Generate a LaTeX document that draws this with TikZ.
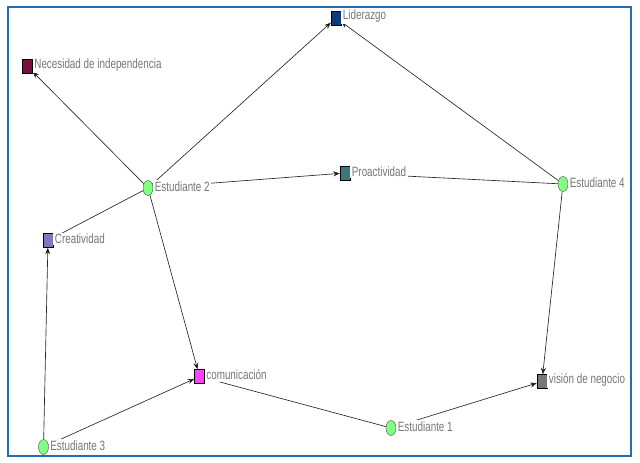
\documentclass[tikz,border=0pt]{standalone}
\usepackage{fontspec}
\newfontfamily\netfont[FakeStretch=0.73]{Liberation Sans}
\usetikzlibrary{arrows.meta, positioning, shapes.geometric}
\pgfdeclarelayer{bg}
\pgfsetlayers{bg,main}
\definecolor{frameblue}{RGB}{38,108,178}
\definecolor{labelgray}{RGB}{118,118,118}
\definecolor{studgreen}{RGB}{128,255,128}
\definecolor{cLid}{RGB}{10,60,122}
\definecolor{cNec}{RGB}{122,16,64}
\definecolor{cCre}{RGB}{122,122,190}
\definecolor{cPro}{RGB}{56,122,122}
\definecolor{cCom}{RGB}{255,64,255}
\definecolor{cVis}{RGB}{120,120,120}
\tikzstyle{network}=[x=1pt, y=-1pt, >={Stealth[length=6.5pt,width=5pt]}, on grid]
\tikzstyle{lbl}=[font=\netfont\fontsize{13.5}{14}\selectfont, text=labelgray, fill=white, inner sep=1.5pt, label distance=0pt, yshift=1.5pt]
\tikzstyle{concept}=[rectangle, draw=black, thin, minimum width=10pt, minimum height=14pt, inner sep=0pt]
\tikzstyle{student}=[ellipse, draw=black!70, thin, fill=studgreen, minimum width=10pt, minimum height=15pt, inner sep=0pt]
\tikzstyle{link}=[draw=black!85, line width=0.65pt]

\begin{document}
\begin{tikzpicture}[network]
  \useasboundingbox (0,0) rectangle (640,463);
  \draw[frameblue, line width=1.3pt] (8,7) rectangle (631,456);
  \node[student, label={[lbl]right:Estudiante 2}] (e2) at (148,188) {};
  \node[concept, fill=cNec, label={[lbl]right:Necesidad de independencia}] (nec) [above left=121.5pt and 120.5pt of e2] {};
  \node[concept, fill=cLid, label={[lbl]right:Liderazgo}] (lid) [above right=170pt and 188pt of e2] {};
  \node[concept, fill=cPro, label={[lbl]right:Proactividad}] (pro) [above right=15pt and 197pt of e2] {};
  \node[student, label={[lbl]right:Estudiante 4}] (e4) [below right=11pt and 218pt of pro] {};
  \node[concept, fill=cCre, label={[lbl]right:Creatividad}] (cre) [below left=52.5pt and 100pt of e2] {};
  \node[concept, fill=cCom, label={[lbl]right:comunicación}] (com) [below right=188.5pt and 51.5pt of e2] {};
  \node[student, label={[lbl]right:Estudiante 3}] (e3) [below left=206.5pt and 4.5pt of cre] {};
  \node[student, label={[lbl]right:Estudiante 1}] (e1) [below right=51.5pt and 191.5pt of com] {};
  \node[concept, fill=cVis, label={[lbl]right:visión de negocio}] (vis) [above right=46.5pt and 151pt of e1] {};
  \begin{pgfonlayer}{bg}
    \path[link, ->] (e2) edge (nec)
                         edge (lid)
                         edge (pro)
                         edge (com);
    \path[link] (e2) edge (cre);
    \path[link, ->] (e4) edge (lid)
                         edge (vis);
    \path[link] (e4) edge (pro);
    \path[link, ->] (e3) edge (cre)
                         edge (com);
    \path[link, ->] (e1) edge (vis);
    \path[link] (e1) edge (com);
  \end{pgfonlayer}
\end{tikzpicture}
\end{document}
